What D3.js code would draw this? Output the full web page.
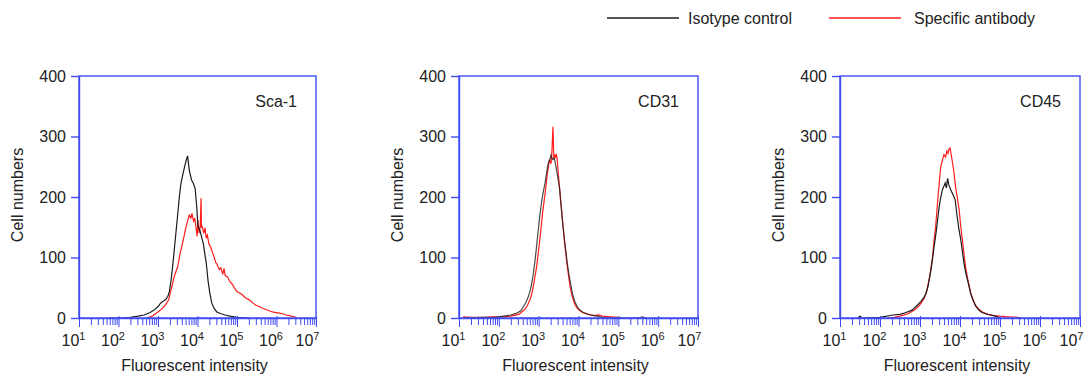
<!DOCTYPE html>
<html lang="en">
<head>
<meta charset="UTF-8">
<script src="https://d3js.org/d3.v7.min.js"></script>
<title>Flow cytometry histograms</title>
<style>
  body { margin: 0; background: #fff; }
  svg text { font-family: "Liberation Sans", Arial, sans-serif; fill: #222; }
  .title { font-size: 16px; }
</style>
</head>
<body>
<svg width="1085" height="378"></svg>
<script>
// x values are log10 of fluorescent intensity, y values are cell counts
const decades = [1, 2, 3, 4, 5, 6, 7];
const yTicks = [0, 100, 200, 300, 400];
const markers = ["Sca-1", "CD31", "CD45"];
const seriesNames = ["Isotype control", "Specific antibody"];

const sca1Isotype = [[1.75,0],[2.05,0],[2.3,1],[2.5,3],[2.65,5],[2.8,9],[2.9,13],[3.0,19],[3.07,25],[3.14,28],
  [3.2,31],[3.25,36],[3.29,44],[3.33,62],[3.37,85],[3.42,118],[3.46,145],[3.5,172],[3.54,200],[3.58,222],
  [3.63,238],[3.68,252],[3.72,262],[3.75,268],[3.79,245],[3.85,228],[3.9,222],[3.94,214],[3.98,184],[4.01,152],
  [4.06,145],[4.1,135],[4.15,122],[4.19,104],[4.22,92],[4.27,60],[4.31,42],[4.36,25],[4.42,16],[4.49,10],
  [4.6,7],[4.7,5],[4.82,3],[5.0,1],[5.3,0]];
const sca1Specific = [[2.72,0],[2.85,3],[3.0,10],[3.1,15],[3.18,21],[3.27,30],[3.35,52],[3.4,66],[3.44,74],[3.5,85],
  [3.56,107],[3.6,118],[3.64,129],[3.69,145],[3.73,156],[3.79,170],[3.83,165],[3.86,173],[3.9,160],[3.93,165],
  [3.96,150],[3.99,135],[4.01,162],[4.04,140],[4.07,152],[4.09,198],[4.1,150],[4.12,151],[4.16,140],[4.19,149],
  [4.22,132],[4.25,137],[4.29,122],[4.33,118],[4.38,108],[4.42,101],[4.46,92],[4.5,88],[4.55,80],[4.59,83],
  [4.64,72],[4.67,82],[4.7,70],[4.76,68],[4.82,60],[4.89,55],[4.95,48],[5.01,43],[5.08,41],[5.14,38],
  [5.22,33],[5.31,30],[5.4,25],[5.48,21],[5.56,19],[5.65,16],[5.73,14],[5.81,12],[5.9,10],[5.98,9],
  [6.07,8],[6.15,7],[6.25,5],[6.32,4],[6.45,2],[6.52,0]];

const cd31Isotype = [[1.1,0],[1.6,1],[1.9,1],[2.11,3],[2.3,5],[2.45,8],[2.55,12],[2.62,19],[2.68,26],[2.74,35],
  [2.78,44],[2.82,55],[2.87,75],[2.91,96],[2.95,120],[2.99,145],[3.03,170],[3.08,195],[3.12,210],[3.16,223],
  [3.2,240],[3.24,256],[3.28,262],[3.31,269],[3.35,262],[3.39,264],[3.42,255],[3.45,245],[3.48,232],[3.52,217],
  [3.55,195],[3.58,173],[3.61,152],[3.64,134],[3.68,112],[3.72,90],[3.76,72],[3.8,57],[3.85,40],[3.91,27],
  [3.97,18],[4.04,13],[4.12,9],[4.21,7],[4.3,5],[4.46,3],[4.6,1],[4.8,0],[5.5,0],[5.6,2],[5.7,0]];
const cd31Specific = [[1.1,2],[1.3,1],[1.6,1],[1.9,2],[2.1,2],[2.3,3],[2.5,6],[2.65,14],[2.72,21],[2.78,30],
  [2.82,38],[2.86,50],[2.9,66],[2.95,85],[2.99,108],[3.03,130],[3.07,155],[3.1,175],[3.13,190],[3.16,205],
  [3.19,222],[3.22,240],[3.25,252],[3.27,262],[3.31,255],[3.33,272],[3.36,316],[3.38,262],[3.4,270],[3.42,266],
  [3.44,270],[3.46,265],[3.48,250],[3.5,232],[3.53,212],[3.55,195],[3.58,176],[3.6,160],[3.63,140],[3.65,125],
  [3.68,108],[3.7,95],[3.73,80],[3.76,65],[3.79,52],[3.82,42],[3.86,32],[3.9,24],[3.95,18],[4.0,14],
  [4.1,9],[4.25,6],[4.4,4],[4.5,5],[4.6,3],[4.8,2],[5.0,1],[5.1,0]];

const cd45Isotype = [[1.45,0],[1.5,3],[1.55,0],[2.0,1],[2.32,5],[2.5,6],[2.65,9],[2.8,13],[2.9,19],[3.02,27],
  [3.1,34],[3.15,41],[3.2,52],[3.23,63],[3.27,78],[3.31,96],[3.35,117],[3.4,140],[3.44,162],[3.48,184],
  [3.52,200],[3.56,212],[3.6,218],[3.63,223],[3.66,215],[3.69,231],[3.72,220],[3.74,217],[3.78,210],[3.81,206],
  [3.85,200],[3.88,195],[3.93,167],[3.97,148],[4.02,129],[4.06,110],[4.1,90],[4.15,73],[4.21,57],[4.26,42],
  [4.32,30],[4.39,20],[4.47,13],[4.55,9],[4.64,7],[4.76,5],[4.88,3],[5.0,0]];
const cd45Specific = [[2.2,0],[2.35,1],[2.5,3],[2.7,7],[2.9,15],[3.0,22],[3.1,32],[3.16,42],[3.2,55],[3.24,68],
  [3.28,85],[3.32,105],[3.35,128],[3.39,150],[3.42,175],[3.45,200],[3.48,222],[3.5,238],[3.52,250],[3.56,261],
  [3.6,270],[3.64,266],[3.67,276],[3.7,272],[3.72,278],[3.75,281],[3.78,270],[3.8,262],[3.84,245],[3.89,216],
  [3.93,200],[3.98,178],[4.02,150],[4.06,129],[4.1,105],[4.14,84],[4.2,62],[4.27,41],[4.34,28],[4.4,20],
  [4.48,14],[4.56,10],[4.7,6],[4.85,4],[5.0,3],[5.2,2],[5.45,1],[5.55,0]];

const panelData = [
  [sca1Isotype, sca1Specific],
  [cd31Isotype, cd31Specific],
  [cd45Isotype, cd45Specific]
];

const colors = ["#1c1c1c", "#ff1c1c"];
const blue = "#3f4cf2";
const lefts = [79, 459, 840];
const widths = [237, 239, 240];
const plotTop = 76, plotH = 242;

const svg = d3.select("svg");

const y = d3.scaleLinear().domain([0, 400]).range([plotH, 0]);

// log ticks: every 1..9 x 10^n
const xTickVals = [];
decades.forEach(n => {
  if (n < 7) d3.range(1, 10).forEach(k => xTickVals.push(k * Math.pow(10, n)));
  else xTickVals.push(Math.pow(10, n));
});
const isMajor = v => Math.abs(Math.log10(v) - Math.round(Math.log10(v))) < 1e-9;

markers.forEach((name, i) => {
  const plotW = widths[i];
  const x = d3.scaleLog().domain([1e1, 1e7]).range([0, plotW]);
  const line = d3.line()
    .x(d => x(Math.pow(10, d[0])))
    .y(d => y(d[1]));

  const g = svg.append("g").attr("transform", `translate(${lefts[i]},${plotTop})`);

  // curves: specific antibody first, isotype on top
  [1, 0].forEach(s => {
    g.append("path")
      .datum(panelData[i][s])
      .attr("d", line)
      .attr("fill", "none")
      .attr("stroke", colors[s])
      .attr("stroke-width", 1.2)
      .attr("stroke-opacity", s === 0 && i === 1 ? 0.8 : 1);
  });

  // frame
  g.append("rect")
    .attr("width", plotW).attr("height", plotH)
    .attr("fill", "none").attr("stroke", blue).attr("stroke-width", 1.4);

  // y axis
  const ya = g.append("g")
    .call(d3.axisLeft(y).tickValues(yTicks).tickSize(8).tickSizeOuter(0).tickPadding(5));
  ya.select(".domain").attr("stroke", blue).attr("stroke-width", 1.4);
  ya.selectAll(".tick line").attr("stroke", blue).attr("stroke-width", 1.4);
  ya.selectAll("text").attr("font-size", 16);

  // x axis
  const xa = g.append("g")
    .attr("transform", `translate(0,${plotH})`)
    .call(d3.axisBottom(x).tickValues(xTickVals).tickSize(7).tickSizeOuter(0).tickPadding(10)
      .tickFormat(v => isMajor(v) ? "10" : ""));
  xa.select(".domain").attr("stroke", blue).attr("stroke-width", 1.4);
  xa.selectAll(".tick line").attr("stroke", blue).attr("stroke-width", 1)
    .attr("y1", v => isMajor(v) ? -2 : 0)
    .attr("y2", v => isMajor(v) ? 9 : 7);
  xa.selectAll(".tick text").filter(v => isMajor(v))
    .attr("font-size", 16)
    .attr("dx", v => Math.round(Math.log10(v)) === 7 ? -9 : -6)
    .append("tspan")
    .attr("font-size", 11)
    .attr("dy", "-0.6em")
    .text(v => Math.round(Math.log10(v)));

  // titles
  g.append("text").attr("class", "title")
    .attr("x", plotW / 2 - 3).attr("y", plotH + 53)
    .attr("text-anchor", "middle")
    .text("Fluorescent intensity");
  g.append("text").attr("class", "title")
    .attr("transform", `translate(-56,${plotH / 2 - 2}) rotate(-90)`)
    .attr("text-anchor", "middle")
    .text("Cell numbers");
  g.append("text").attr("class", "title")
    .attr("x", plotW - 19).attr("y", 31)
    .attr("text-anchor", "end")
    .text(name);
});

// legend
const legendX = [607, 829];
seriesNames.forEach((name, i) => {
  const lg = svg.append("g").attr("transform", `translate(${legendX[i]},18)`);
  lg.append("line").attr("x1", 0).attr("x2", 72)
    .attr("stroke", colors[i]).attr("stroke-width", 1.6);
  lg.append("text").attr("class", "title")
    .attr("x", i === 0 ? 81 : 85).attr("y", 5.5)
    .text(name);
});
</script>
</body>
</html>
